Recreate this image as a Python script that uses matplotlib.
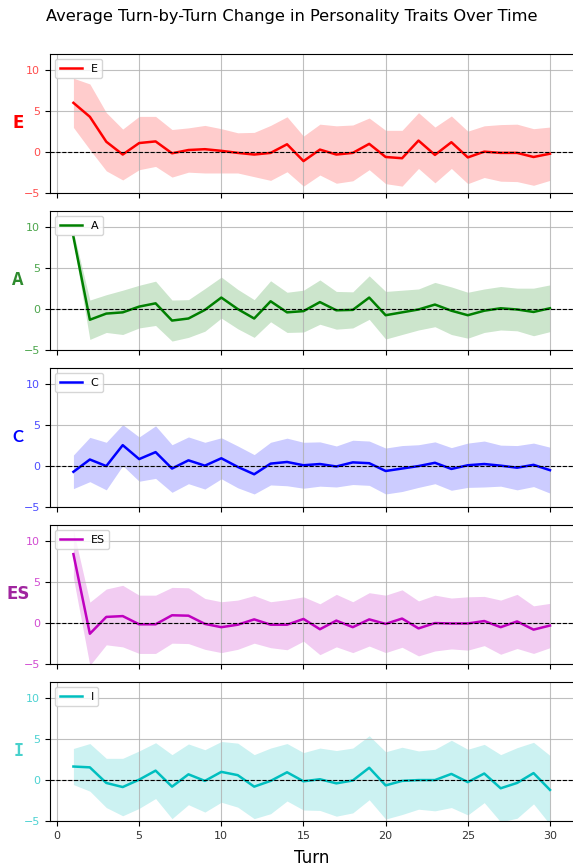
import matplotlib
matplotlib.use("Agg")
import matplotlib.pyplot as plt
import numpy as np
from matplotlib.colors import to_rgba

turns = np.arange(1, 31)

traits = ["E", "A", "C", "ES", "I"]

e_mean = [6.0, 4.3, 1.26, -0.3, 1.1, 1.3, -0.15, 0.25, 0.35, 0.15, -0.1, -0.3, -0.1, 0.95, -1.1,
          0.3, -0.3, -0.1, 1.0, -0.6, -0.75, 1.4, -0.35, 1.2, -0.65, 0.05, -0.1, -0.1, -0.6, -0.2]
e_std = [3.0, 4.0, 3.55, 3.1, 3.25, 3.05, 2.9, 2.7, 2.9, 2.7, 2.45, 2.7, 3.35, 3.35, 3.05,
         3.1, 3.5, 3.4, 3.15, 3.25, 3.4, 3.4, 3.4, 3.2, 3.2, 3.15, 3.45, 3.5, 3.45, 3.25]

a_mean = [8.8, -1.3, -0.55, -0.4, 0.3, 0.7, -1.4, -1.15, -0.1, 1.4, 0.0, -1.15, 0.95, -0.4, -0.25,
          0.85, -0.15, -0.1, 1.4, -0.75, -0.4, -0.05, 0.55, -0.2, -0.75, -0.2, 0.1, -0.05, -0.35, 0.1]
a_std = [0.6, 2.4, 2.3, 2.7, 2.6, 2.7, 2.5, 2.3, 2.6, 2.5, 2.4, 2.3, 2.5, 2.45, 2.55,
         2.7, 2.3, 2.2, 2.65, 2.9, 2.7, 2.5, 2.7, 2.9, 2.8, 2.65, 2.65, 2.6, 2.9, 2.85]

c_mean = [-0.7, 0.8, 0.0, 2.55, 0.85, 1.7, -0.3, 0.7, 0.05, 0.95, -0.1, -1.0, 0.3, 0.5, 0.1,
          0.25, -0.05, 0.45, 0.35, -0.6, -0.3, 0.0, 0.4, -0.35, 0.1, 0.25, 0.05, -0.2, 0.15, -0.5]
c_std = [2.05, 2.7, 2.9, 2.5, 2.7, 3.2, 2.9, 2.85, 2.85, 2.5, 2.55, 2.4, 2.6, 2.9, 2.8,
         2.7, 2.5, 2.7, 2.7, 2.8, 2.8, 2.6, 2.55, 2.6, 2.7, 2.8, 2.5, 2.7, 2.65, 2.8]

es_mean = [8.4, -1.3, 0.75, 0.85, -0.15, -0.15, 0.95, 0.9, -0.1, -0.5, -0.2, 0.45, -0.2, -0.2, 0.5,
           -0.75, 0.3, -0.5, 0.45, -0.1, 0.55, -0.65, 0.0, -0.05, -0.05, 0.25, -0.5, 0.2, -0.8, -0.3]
es_std = [2.9, 3.85, 3.4, 3.75, 3.55, 3.55, 3.4, 3.4, 3.1, 3.1, 3.0, 2.9, 2.8, 3.05, 2.7,
          3.1, 3.2, 3.1, 3.25, 3.5, 3.5, 3.35, 3.4, 3.1, 3.25, 3.0, 3.3, 3.3, 2.9, 2.7]

i_mean = [1.65, 1.55, -0.35, -0.85, 0.05, 1.15, -0.8, 0.7, -0.1, 1.0, 0.6, -0.8, -0.1, 0.95, -0.15,
          0.1, -0.4, -0.05, 1.5, -0.65, -0.1, 0.0, 0.0, 0.75, -0.25, 0.8, -1.0, -0.35, 0.85, -1.2]
i_std = [2.2, 2.9, 3.0, 3.5, 3.5, 3.4, 3.9, 3.7, 3.8, 3.7, 3.9, 3.9, 4.0, 3.5, 3.5,
         3.8, 4.0, 3.95, 3.9, 4.1, 4.1, 3.55, 3.75, 4.1, 4.0, 3.55, 4.1, 4.3, 3.75, 4.2]

means = [e_mean, a_mean, c_mean, es_mean, i_mean]
stds = [e_std, a_std, c_std, es_std, i_std]
line_colors = ["red", "green", "blue", "m", "c"]
label_colors = ["red", "#2e8b2e", "blue", "#a0259f", "mediumturquoise"]
label_fonts = ["DejaVu Sans", "Open Sans", "Lato", "Liberation Sans Narrow", "DejaVu Sans Mono"]

W, H = 573, 868
fig = plt.figure(figsize=(W / 100, H / 100), dpi=100)

left_px, right_px = 49.6, 573.8
top0, pitch, height = 53.6, 157.0, 139.5

axes = []
for k, trait in enumerate(traits):
    top = top0 + k * pitch
    rect = [left_px / W, 1 - (top + height) / H, (right_px - left_px) / W, height / H]
    ax = fig.add_axes(rect, sharex=axes[0] if axes else None)
    axes.append(ax)

    m = np.array(means[k])
    s = np.array(stds[k])
    col = line_colors[k]
    ax.plot(turns, m, color=col, lw=1.8, label=trait)
    ax.fill_between(turns, m - s, m + s, color=col, alpha=0.2, lw=0)
    ax.axhline(0, color="black", ls="--", lw=0.8)

    ax.set_ylim(-5, 12)
    ax.set_yticks([-5, 0, 5, 10])
    ax.set_xticks([0, 5, 10, 15, 20, 25, 30])
    ax.grid(True, color="#b0b0b0", lw=0.8, alpha=0.8)
    ax.tick_params(axis="y", labelsize=8, labelcolor=to_rgba(col, 0.7))
    ax.tick_params(axis="x", labelsize=8, labelcolor="#333333")
    if k < len(traits) - 1:
        ax.tick_params(axis="x", labelbottom=False)

    ax.set_ylabel(trait, rotation=0, fontsize=12, fontweight="bold",
                  color=label_colors[k], family=label_fonts[k], ha="center", va="center")
    ax.yaxis.set_label_coords(-0.06, 0.5)
    ax.legend(loc="upper left", fontsize=8, handlelength=2.0)

axes[-1].set_xlabel("Turn", fontsize=12, labelpad=6)
fig.suptitle("Average Turn-by-Turn Change in Personality Traits Over Time",
             fontsize=11.7, x=0.51, y=0.99)

fig.savefig("out.png", dpi=100)
